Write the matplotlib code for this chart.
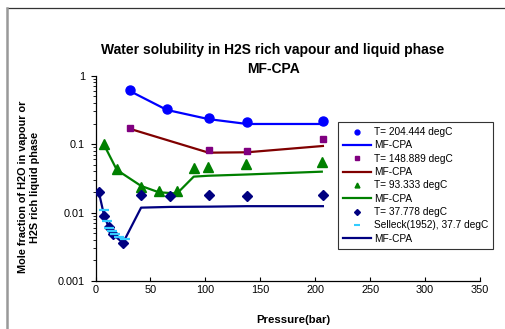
import numpy as np
import matplotlib.pyplot as plt
from matplotlib.lines import Line2D

plt.rcParams['font.family'] = ['Liberation Sans', 'DejaVu Sans']

# T = 204.444 degC
p_204 = [31, 65, 103, 138, 207]
x_204 = [0.615, 0.33, 0.244, 0.21, 0.216]
p_204_m = [31, 65, 103, 138, 207]
x_204_m = [0.60, 0.316, 0.232, 0.197, 0.197]

# T = 148.889 degC
p_149 = [31, 103, 138, 207]
x_149 = [0.174, 0.081, 0.08, 0.12]
p_149_m = [31, 103, 138, 207]
x_149_m = [0.168, 0.075, 0.076, 0.094]

# T = 93.333 degC
p_93 = [7.6, 19.4, 41.5, 57.6, 74.2, 89.4, 102.4, 137.3, 206]
x_93 = [0.1, 0.044, 0.024, 0.0205, 0.0205, 0.045, 0.047, 0.051, 0.055]
p_93_m = [7.6, 19.4, 41.5, 57.6, 74.2, 89.4, 102.4, 137.3, 206]
x_93_m = [0.099, 0.042, 0.0245, 0.0198, 0.019, 0.0335, 0.0345, 0.036, 0.0396]

# T = 37.778 degC
p_38 = [3, 8, 12, 16, 25, 41.5, 68, 103, 138, 207]
x_38 = [0.020, 0.0088, 0.0062, 0.0048, 0.0036, 0.018, 0.0175, 0.018, 0.0175, 0.018]
p_38_m = [3, 8, 12, 16, 25, 41.5, 68, 103, 138, 207]
x_38_m = [0.020, 0.0088, 0.0062, 0.0048, 0.0036, 0.0118, 0.0121, 0.0122, 0.0124, 0.0124]

# Selleck (1952), 37.7 degC
p_sel = [7.5, 10.5, 12.5, 15, 18, 21, 27]
x_sel = [0.0108, 0.0076, 0.006, 0.0054, 0.0048, 0.0044, 0.0041]

fig = plt.figure(figsize=(5.05, 3.29), dpi=100)
ax = fig.add_axes([95.5 / 505, 1 - 281 / 329, 384.5 / 505, 205.3 / 329])

lw = 1.6
ax.plot(p_204_m, x_204_m, '-', color='#0000FF', lw=lw, zorder=2)
ax.plot(p_204, x_204, 'o', color='#0000FF', ms=6.5, ls='none', zorder=3)
ax.plot(p_149_m, x_149_m, '-', color='#800000', lw=lw, zorder=2)
ax.plot(p_149, x_149, 's', color='#800080', ms=5, ls='none', zorder=3)
ax.plot(p_93_m, x_93_m, '-', color='#008000', lw=lw, zorder=2)
ax.plot(p_93, x_93, '^', color='#008000', ms=7, ls='none', zorder=3)
ax.plot(p_38_m, x_38_m, '-', color='#000080', lw=lw, zorder=2)
ax.plot(p_38, x_38, 'D', color='#000080', ms=5, ls='none', zorder=3)
ax.plot(p_sel, x_sel, '_', color='#33CCFF', ms=7.5, mew=1.6, ls='none', zorder=4)

ax.set_yscale('log')
ax.set_xlim(0, 350)
ax.set_ylim(0.001, 1)
ax.set_xticks(np.arange(0, 351, 50))
ax.set_yticks([0.001, 0.01, 0.1, 1])
ax.set_yticklabels(['0.001', '0.01', '0.1', '1'])
ax.tick_params(axis='both', which='major', labelsize=7.8, colors='black', width=0.8)
ax.tick_params(axis='x', which='major', direction='in', length=3, pad=3)
ax.tick_params(axis='y', which='major', direction='out', length=3.5, pad=4)
ax.tick_params(axis='y', which='minor', direction='out', length=2.5, width=0.6)
ax.yaxis.set_minor_formatter(plt.NullFormatter())
for s in ['top', 'right']:
    ax.spines[s].set_visible(False)
for s in ['left', 'bottom']:
    ax.spines[s].set_linewidth(0.9)
ax.patch.set_alpha(0)

fig.text(273 / 505, 1 - 50 / 329, 'Water solubility in H2S rich vapour and liquid phase',
         ha='center', va='center', fontsize=10, fontweight='bold')
fig.text(273 / 505, 1 - 69 / 329, 'MF-CPA', ha='center', va='center',
         fontsize=10, fontweight='bold')
fig.text(293 / 505, 1 - 320 / 329, 'Pressure(bar)', ha='center', va='center',
         fontsize=8.2, fontweight='bold')
fig.text(29 / 505, 1 - 187 / 329, 'Mole fraction of H2O in vapour or\nH2S rich liquid phase',
         ha='center', va='center', rotation=90, fontsize=7.8, fontweight='bold',
         linespacing=1.2)

# chart area border (top + left edges visible)
fig.add_artist(Line2D([7 / 505, 1], [1 - 8 / 329, 1 - 8 / 329], color='#333333', lw=0.9,
                      transform=fig.transFigure))
fig.add_artist(Line2D([7 / 505, 7 / 505], [0, 1 - 8 / 329], color='#999999', lw=1.8,
                      transform=fig.transFigure))

handles = [
    Line2D([], [], marker='o', color='#0000FF', ls='none', ms=3.5),
    Line2D([], [], color='#0000FF', lw=lw),
    Line2D([], [], marker='s', color='#800080', ls='none', ms=3),
    Line2D([], [], color='#800000', lw=lw),
    Line2D([], [], marker='^', color='#008000', ls='none', ms=3.5),
    Line2D([], [], color='#008000', lw=lw),
    Line2D([], [], marker='D', color='#000080', ls='none', ms=3),
    Line2D([], [], marker='_', color='#33CCFF', ls='none', ms=5, mew=1.5),
    Line2D([], [], color='#000080', lw=lw),
]
labels = ['T= 204.444 degC', 'MF-CPA', 'T= 148.889 degC', 'MF-CPA', 'T= 93.333 degC',
          'MF-CPA', 'T= 37.778 degC', 'Selleck(1952), 37.7 degC', 'MF-CPA']
leg = fig.legend(handles, labels, loc='upper left',
                 bbox_to_anchor=(338 / 505, 1 - 122 / 329), fontsize=7.3,
                 frameon=True, fancybox=False, edgecolor='#333333', framealpha=1,
                 handlelength=2.8, handletextpad=0.25, labelspacing=0.33,
                 borderpad=0.5, borderaxespad=0)
leg.get_frame().set_linewidth(0.8)

fig.savefig('out.png', dpi=100)
